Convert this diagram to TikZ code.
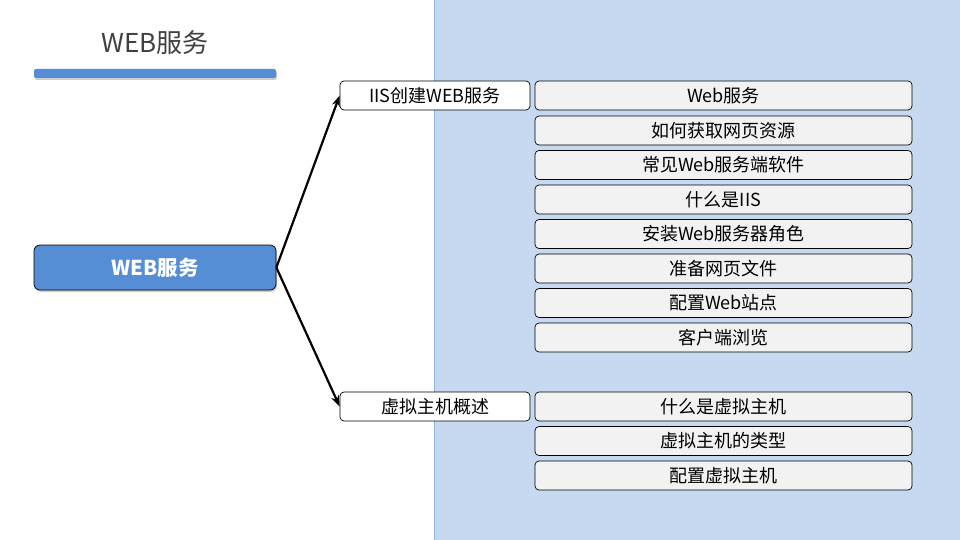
\documentclass[tikz,border=0pt]{standalone}
\usepackage{fontspec}
\setmainfont{Noto Sans CJK SC}
\usetikzlibrary{arrows.meta,shadows}
\definecolor{panelfill}{HTML}{C6D9F1}
\definecolor{paneledge}{HTML}{8EB4E3}
\definecolor{mainblue}{HTML}{558ED5}
\definecolor{itemfill}{HTML}{F2F2F2}
\definecolor{titlegray}{HTML}{404040}
\tikzset{
  lvone/.style={draw=black, fill=white, rounded corners=4pt, minimum width=190pt, minimum height=29pt, inner sep=0pt, font=\fontsize{18pt}{20pt}\selectfont, line width=0.7pt},
  lvtwo/.style={draw=black, fill=itemfill, rounded corners=4pt, minimum width=377pt, minimum height=29pt, inner sep=0pt, font=\fontsize{18pt}{20pt}\selectfont, line width=0.7pt},
  conn/.style={line width=2.2pt, -{Stealth[length=11pt,width=8pt]}}
}
\begin{document}
\begin{tikzpicture}[x=1pt,y=-1pt]
\useasboundingbox (0,0) rectangle (960,540);
\fill[white] (0,0) rectangle (960,540);
\fill[panelfill] (434,0) rectangle (960,540);
\draw[paneledge, line width=0.8pt] (434,0) -- (434,540);
\node[text=titlegray, font=\fontsize{26pt}{30pt}\selectfont] (title) at (155,43) {WEB服务};
\fill[mainblue, rounded corners=2pt, drop shadow={shadow xshift=1pt, shadow yshift=-2pt, opacity=0.4}] (34,69) rectangle (276,78);
\node[draw=black, fill=mainblue, rounded corners=6pt, minimum width=242pt, minimum height=45pt, inner sep=0pt, text=white, font=\fontsize{20.5pt}{24pt}\selectfont\bfseries, line width=0.7pt, drop shadow={shadow xshift=1pt, shadow yshift=-2pt, opacity=0.4}] (main) at (155,267.5) {WEB服务};
\node[lvone] (iis) at (435,95.5) {IIS创建WEB服务};
\node[lvone] (vh) at (435,406.5) {虚拟主机概述};
\draw[conn] (main.east) -- (iis.west);
\draw[conn] (main.east) -- (vh.west);
\node[lvtwo] (a1) at (723.5,95.5) {Web服务};
\node[lvtwo] (a2) at (723.5,130.5) {如何获取网页资源};
\node[lvtwo] (a3) at (723.5,165) {常见Web服务端软件};
\node[lvtwo] (a4) at (723.5,199.5) {什么是IIS};
\node[lvtwo] (a5) at (723.5,234) {安装Web服务器角色};
\node[lvtwo] (a6) at (723.5,268.5) {准备网页文件};
\node[lvtwo] (a7) at (723.5,303) {配置Web站点};
\node[lvtwo] (a8) at (723.5,337.5) {客户端浏览};
\node[lvtwo] (b1) at (723.5,406.5) {什么是虚拟主机};
\node[lvtwo] (b2) at (723.5,441) {虚拟主机的类型};
\node[lvtwo] (b3) at (723.5,475.5) {配置虚拟主机};
\end{tikzpicture}
\end{document}
